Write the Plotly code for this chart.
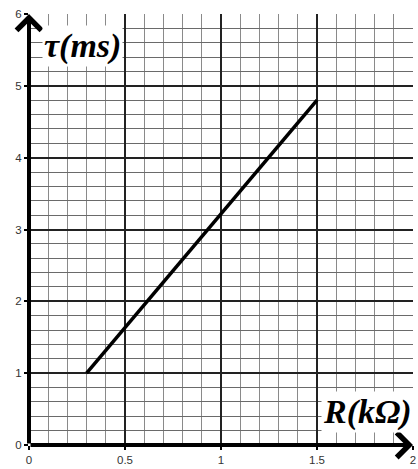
import plotly.graph_objects as go

# data
R_values = [0.3, 1.5]          # kΩ
tau_values = [1.0, 4.8]        # ms
x_ticks = [0, 0.5, 1, 1.5, 2]
x_tick_labels = ["0", "0.5", "1", "1.5", "2"]
y_ticks = [0, 1, 2, 3, 4, 5, 6]
y_tick_labels = ["0", "1", "2", "3", "4", "5", "6"]

fig = go.Figure()
fig.add_trace(go.Scatter(x=R_values, y=tau_values, mode="lines",
                         line=dict(color="black", width=3.5), showlegend=False))

tick_font = dict(family="Liberation Sans, Arial", size=11.5, color="#333")
fig.update_layout(
    width=418, height=469,
    margin=dict(l=29, r=2, t=14, b=24),
    paper_bgcolor="white", plot_bgcolor="white",
    xaxis=dict(range=[0, 2], tickvals=x_ticks, ticktext=x_tick_labels,
               showgrid=True, gridcolor="#222", gridwidth=1.8,
               minor=dict(dtick=0.1, showgrid=True, gridcolor="#8a8a8a", gridwidth=1),
               ticks="outside", ticklen=4, tickwidth=2, tickcolor="black",
               ticklabeloverflow="allow",
               showline=False, zeroline=False, tickfont=tick_font, fixedrange=True),
    yaxis=dict(range=[0, 6], tickvals=y_ticks, ticktext=y_tick_labels,
               showgrid=True, gridcolor="#222", gridwidth=1.8,
               minor=dict(dtick=0.2, showgrid=True, gridcolor="#6a6a6a", gridwidth=1),
               ticks="outside", ticklen=4, tickwidth=2, tickcolor="black",
               ticklabeloverflow="allow",
               showline=False, zeroline=False, tickfont=tick_font, fixedrange=True),
)

# axis lines with arrows
fig.add_annotation(x=0, y=6, ax=0, ay=0, xref="x", yref="y", axref="x", ayref="y",
                   text="", showarrow=True, arrowhead=4, arrowsize=1.2, arrowwidth=4,
                   arrowcolor="black")
fig.add_annotation(x=2, y=0, ax=0, ay=0, xref="x", yref="y", axref="x", ayref="y",
                   text="", showarrow=True, arrowhead=4, arrowsize=1.2, arrowwidth=4,
                   arrowcolor="black")

# axis labels
label_font = dict(family="Liberation Serif, Times New Roman", size=34, color="black")
fig.add_annotation(x=0.279, y=5.555, xref="x", yref="y", xanchor="center", yanchor="middle",
                   text="<b><i>τ(ms)</i></b>", showarrow=False, font=label_font,
                   bgcolor="white", borderpad=1)
fig.add_annotation(x=1.762, y=0.46, xref="x", yref="y", xanchor="center", yanchor="middle",
                   text="<b><i>R(kΩ)</i></b>", showarrow=False, font=label_font,
                   bgcolor="white", borderpad=1)

fig.write_html("out.html", post_script="document.body.style.margin='0';",
               config={"displayModeBar": False})
